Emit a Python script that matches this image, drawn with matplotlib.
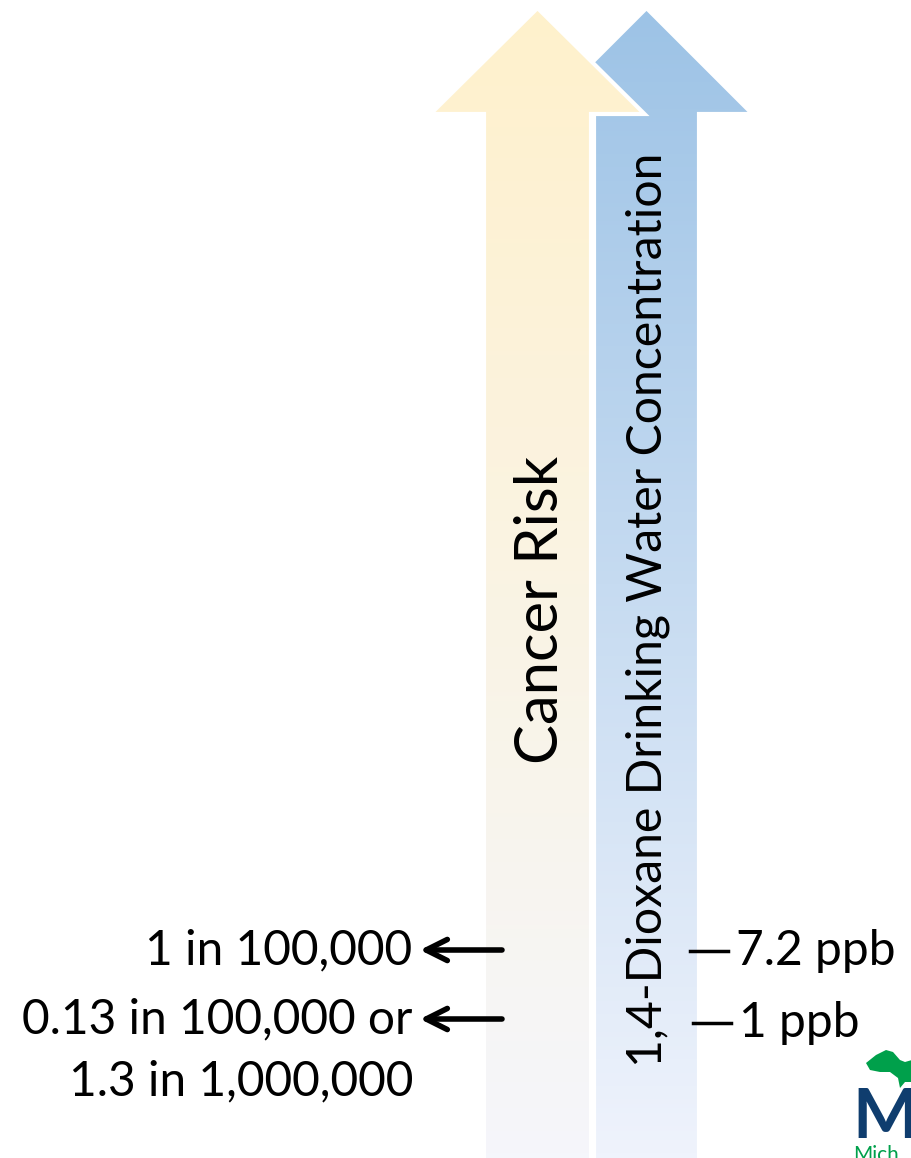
import numpy as np
import matplotlib
matplotlib.use("Agg")
import matplotlib.pyplot as plt
from matplotlib.patches import Polygon
from matplotlib.colors import LinearSegmentedColormap

plt.rcParams['font.family'] = ['Lato', 'DejaVu Sans']

# ---- data ----
arrow_titles = ["Cancer Risk", "1,4-Dioxane Drinking Water Concentration"]
risk_labels = ["1 in 100,000", "0.13 in 100,000 or", "1.3 in 1,000,000"]
conc_labels = ["7.2 ppb", "1 ppb"]
arrow_top_colors = ["#FFF1CC", "#9DC3E6"]
arrow_bottom_colors = ["#F5F6FB", "#EFF3FC"]

W, H = 912, 1158
fig = plt.figure(figsize=(W / 100, H / 100), dpi=100)
ax = fig.add_axes([0, 0, 1, 1])
ax.set_xlim(0, W)
ax.set_ylim(H, 0)
ax.axis('off')


def arrow_poly(cx, shaft_half, head_half, tip_y, head_y, bottom):
    return [(cx, tip_y), (cx + head_half, head_y), (cx + shaft_half, head_y),
            (cx + shaft_half, bottom), (cx - shaft_half, bottom),
            (cx - shaft_half, head_y), (cx - head_half, head_y)]


def grad_arrow(pts, c_top, c_bot, z):
    poly = Polygon(pts, closed=True, facecolor='none', edgecolor='white',
                   linewidth=3.0, zorder=z + 0.5)
    ax.add_patch(poly)
    cmap = LinearSegmentedColormap.from_list('g', [c_top, c_bot])
    xs = [p[0] for p in pts]
    ys = [p[1] for p in pts]
    grad = np.linspace(0, 1, 256).reshape(-1, 1)
    im = ax.imshow(grad, cmap=cmap, aspect='auto',
                   extent=(min(xs), max(xs), max(ys), min(ys)),
                   zorder=z, interpolation='bilinear')
    clip = Polygon(pts, closed=True, transform=ax.transData)
    im.set_clip_path(clip)


# blue arrow (behind)
blue = arrow_poly(646.5, 52.5, 106, 8, 114, 1160)
grad_arrow(blue, arrow_top_colors[1], arrow_bottom_colors[1], 1)
# yellow arrow (front)
yellow = arrow_poly(537.5, 53.5, 107, 8, 114, 1160)
grad_arrow(yellow, arrow_top_colors[0], arrow_bottom_colors[0], 3)

ax.set_xlim(0, W)
ax.set_ylim(H, 0)

# titles along arrows
ax.text(541, 610, arrow_titles[0], rotation=90, ha='center', va='center',
        fontsize=43, color='black', zorder=10)
ax.text(648, 610, arrow_titles[1], rotation=90, ha='center', va='center',
        fontsize=34.7, color='black', zorder=10)

# left labels with arrows
left_y = [950, 1019]
ax.text(412, left_y[0], risk_labels[0], ha='right', va='center',
        fontsize=34.5, zorder=10)
ax.text(412, left_y[1], risk_labels[1], ha='right', va='center',
        fontsize=34.5, zorder=10)
ax.text(413, 1081, risk_labels[2], ha='right', va='center',
        fontsize=34.5, zorder=10)
for y in left_y:
    ax.annotate('', xy=(420, y), xytext=(502, y),
                arrowprops=dict(arrowstyle='->', lw=4, color='black',
                                mutation_scale=38, shrinkA=0, shrinkB=0),
                zorder=10)

# right labels with dashes
right_y = [951, 1023]
right_x = [(690, 728), (693, 731)]
for (x0, x1), y, lab in zip(right_x, right_y, conc_labels):
    ax.plot([x0, x1], [y, y], color='black', lw=2.5, zorder=10)
    ax.text(x1 + 8, y, lab, ha='left', va='center', fontsize=34.5, zorder=10)

# partial logo at bottom-right
ax.text(852, 1138, "M", ha='left', va='baseline', fontsize=50,
        fontweight='bold', color='#0F3D6E', zorder=10)
ax.text(853, 1161, "Mich", ha='left', va='baseline', fontsize=15,
        color='#00A04B', zorder=10)
up = [(866, 1063), (876, 1055), (886, 1050), (893, 1052), (900, 1060),
      (905, 1062), (912, 1060), (912, 1082), (905, 1082), (900, 1088),
      (898, 1078), (890, 1072), (880, 1072), (870, 1070)]
ax.add_patch(Polygon(up, closed=True, facecolor='#00A04B', edgecolor='none',
                     zorder=10))

fig.savefig("out.png", dpi=100)
